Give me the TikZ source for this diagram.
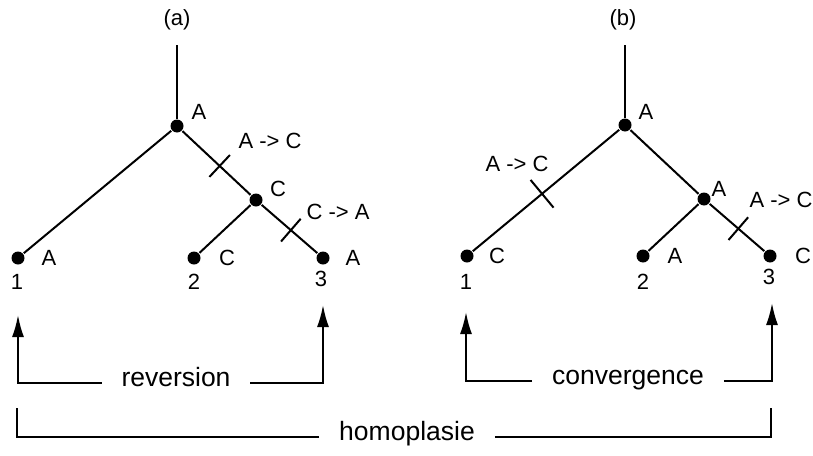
\documentclass[tikz,border=0pt]{standalone}
\usepackage{fontspec}
\setmainfont{Liberation Sans}
\usepackage{tikz}
\usetikzlibrary{
    positioning,
    calc,
    arrows.meta
}
\tikzset{
    >={Latex[length=22pt,width=12pt]},
    punto/.style={
        circle,
        fill,
        inner sep=0pt,
        minimum size=13pt
    },
    estado/.style={
        font=\fontsize{22}{26}\selectfont,
        inner sep=0pt
    },
    grupo/.style={
        font=\fontsize{26.5}{31}\selectfont,
        text height=0.8em,
        text depth=0.06em,
        inner xsep=19pt,
        inner ysep=0pt
    }
}

\begin{document}
\begin{tikzpicture}[
    x=1pt,
    y=-1pt,
    line width=2pt
]
    \useasboundingbox (0,0) rectangle (813,455);

    % Arbol (a)
    \node[estado] (tita) at (177,20) {(a)};
    \coordinate (topa) at (177,45);
    \node[punto] (ra) at (177,126) {};
    \node[punto] (ca) at (256,200) {};
    \node[punto] (a1) at (18,258) {};
    \node[punto] (a2) at (194,258) {};
    \node[punto] (a3) at (323,258) {};

    \path
        (topa) edge (ra)
        (ra)   edge (a1)
        (ra)   edge (ca)
        (ca)   edge (a2)
        (ca)   edge (a3);

    % cambios en (a)
    \coordinate (ma1) at ($(ra)!0.54!(ca)$);
    \draw ($(ma1)!15pt!90:(ca)$) -- ($(ma1)!15pt!-90:(ca)$);
    \coordinate (ma2) at ($(ca)!0.52!(a3)$);
    \draw ($(ma2)!15pt!90:(a3)$) -- ($(ma2)!15pt!-90:(a3)$);

    \node[estado] (era) at (199,112) {A};
    \node[estado] (eca) at (278,189) {C};
    \node[estado] (ca1) at (270,141) {A -> C};
    \node[estado] (ca2) at (338,212) {C -> A};
    \node[estado] (ea1) at (49,258)  {A};
    \node[estado] (ea2) at (227,258) {C};
    \node[estado] (ea3) at (353,258) {A};
    \node[estado] (na1) at (17,282)  {1};
    \node[estado] (na2) at (194,282) {2};
    \node[estado] (na3) at (321,279) {3};

    % Arbol (b)
    \node[estado] (titb) at (623,20) {(b)};
    \coordinate (topb) at (625,45);
    \node[punto] (rb) at (625,125) {};
    \node[punto] (cb) at (704,199) {};
    \node[punto] (b1) at (467,256) {};
    \node[punto] (b2) at (643,256) {};
    \node[punto] (b3) at (770,256) {};

    \path
        (topb) edge (rb)
        (rb)   edge (b1)
        (rb)   edge (cb)
        (cb)   edge (b2)
        (cb)   edge (b3);

    % cambios en (b)
    \coordinate (mb1) at ($(rb)!0.525!(b1)$);
    \draw ($(mb1)!18pt!90:(b1)$) -- ($(mb1)!18pt!-90:(b1)$);
    \coordinate (mb2) at ($(cb)!0.52!(b3)$);
    \draw ($(mb2)!15pt!90:(b3)$) -- ($(mb2)!15pt!-90:(b3)$);

    \node[estado] (erb) at (646,112) {A};
    \node[estado] (ecb) at (719,189) {A};
    \node[estado] (cb1) at (517,164) {A -> C};
    \node[estado] (cb2) at (781,200) {A -> C};
    \node[estado] (eb1) at (497,256) {C};
    \node[estado] (eb2) at (675,256) {A};
    \node[estado] (eb3) at (803,256) {C};
    \node[estado] (nb1) at (466,282) {1};
    \node[estado] (nb2) at (643,282) {2};
    \node[estado] (nb3) at (769,277) {3};

    % Agrupaciones
    \node[grupo] (rev) at (176,383) {reversion};
    \coordinate (fa1) at (18,315);
    \coordinate (fa3) at (323,305);
    \draw[->] (rev.west) -| (fa1);
    \draw[->] (rev.east) -| (fa3);

    \node[grupo] (con) at (628,381) {convergence};
    \coordinate (fb1) at (466,312);
    \coordinate (fb3) at (772,303);
    \draw[->] (con.west) -| (fb1);
    \draw[->] (con.east) -| (fb3);

    \node[grupo] (hom) at (407,437) {homoplasie};
    \coordinate (h1) at (17,408);
    \coordinate (h3) at (771,408);
    \draw (hom.west) -| (h1);
    \draw (hom.east) -| (h3);

\end{tikzpicture}
\end{document}
